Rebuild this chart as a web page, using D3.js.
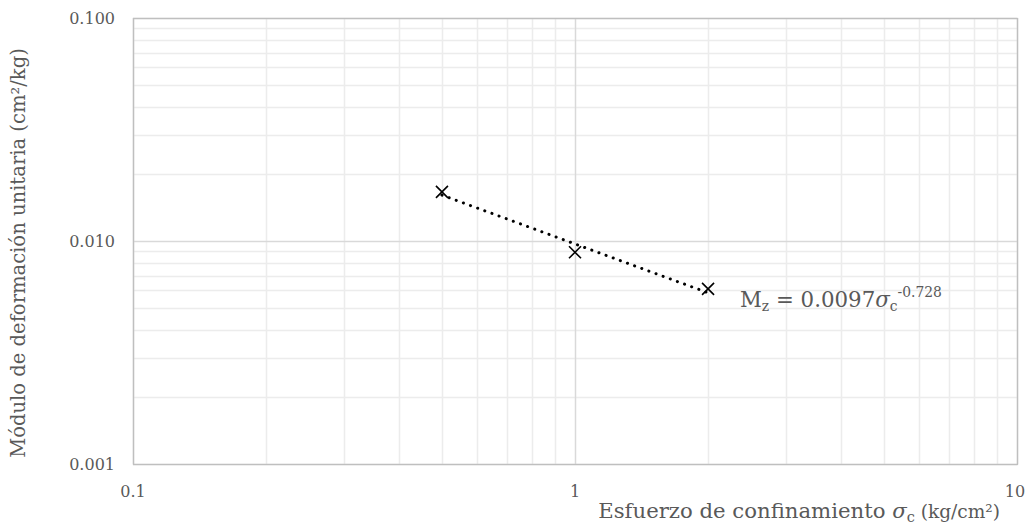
<!DOCTYPE html>
<html><head><meta charset="utf-8">
<script src="https://cdn.jsdelivr.net/npm/d3@7"></script>
<style>body{margin:0;background:#fff}text{font-family:"DejaVu Serif","Liberation Serif",serif;fill:#595959}</style>
</head><body>
<svg id="c" width="1029" height="525"></svg>
<script>
const stress = [0.5, 1, 2];
const modulus = [0.0166, 0.0089, 0.0061];
const fitCoef = 0.0097, fitExp = -0.728;
const xTicks = [0.1, 1, 10];
const xTickLabels = ["0.1", "1", "10"];
const yTicks = [0.001, 0.01, 0.1];
const yTickLabels = ["0.001", "0.010", "0.100"];

const svg = d3.select("#c");
const L = 133, R = 1017, T = 18, B = 464;
const x = d3.scaleLog().domain([0.1, 10]).range([L, R]);
const y = d3.scaleLog().domain([0.001, 0.1]).range([B, T]);

function fitWidth(sel, target) {
  const w = sel.node().getBBox().width;
  const k = target / w;
  sel.attr("font-size", +sel.attr("font-size") * k);
  sel.selectAll("tspan").each(function () {
    const t = d3.select(this);
    if (t.attr("font-size")) t.attr("font-size", +t.attr("font-size") * k);
    if (t.attr("dy")) t.attr("dy", +t.attr("dy") * k);
  });
}

// minor grid
const minorX = [], minorY = [];
[0.1, 1].forEach(d => { for (let k = 2; k <= 9; k++) minorX.push(d * k); });
[0.001, 0.01].forEach(d => { for (let k = 2; k <= 9; k++) minorY.push(d * k); });
const g = svg.append("g");
g.selectAll(".mx").data(minorX).enter().append("line")
  .attr("x1", d => Math.round(x(d)) + 0.5).attr("x2", d => Math.round(x(d)) + 0.5)
  .attr("y1", T).attr("y2", B).attr("stroke", "#ececec").attr("stroke-width", 1.5);
g.selectAll(".my").data(minorY).enter().append("line")
  .attr("y1", d => Math.round(y(d)) + 0.5).attr("y2", d => Math.round(y(d)) + 0.5)
  .attr("x1", L).attr("x2", R).attr("stroke", "#ececec").attr("stroke-width", 1.5);
g.selectAll(".Mx").data(xTicks).enter().append("line")
  .attr("x1", d => Math.round(x(d)) + 0.5).attr("x2", d => Math.round(x(d)) + 0.5)
  .attr("y1", T).attr("y2", B).attr("stroke", "#d9d9d9").attr("stroke-width", 1.5);
g.selectAll(".My").data(yTicks).enter().append("line")
  .attr("y1", d => Math.round(y(d)) + 0.5).attr("y2", d => Math.round(y(d)) + 0.5)
  .attr("x1", L).attr("x2", R).attr("stroke", "#d9d9d9").attr("stroke-width", 1.5);

// border
svg.append("rect").attr("x", L + 0.5).attr("y", T + 0.5).attr("width", R - L).attr("height", B - T)
  .attr("fill", "none").attr("stroke", "#bfbfbf").attr("stroke-width", 1.3);

// tick labels
svg.selectAll(".xt").data(xTicks).enter().append("text")
  .attr("x", (d, i) => i === 2 ? x(d) - 2 : x(d)).attr("y", 497).attr("text-anchor", "middle")
  .attr("font-size", 16).text((d, i) => xTickLabels[i]);
svg.selectAll(".yt").data(yTicks).enter().append("text")
  .attr("x", 115).attr("y", d => y(d) + 6).attr("text-anchor", "end")
  .attr("font-size", 16).text((d, i) => yTickLabels[i]);

// trendline
const fitPts = d3.range(0, 41).map(i => {
  const xv = Math.pow(10, Math.log10(stress[0]) + i / 40 * (Math.log10(stress[2]) - Math.log10(stress[0])));
  return [xv, fitCoef * Math.pow(xv, fitExp)];
});
svg.append("path").datum(fitPts)
  .attr("d", d3.line().x(d => x(d[0])).y(d => y(d[1])))
  .attr("fill", "none").attr("stroke", "#000").attr("stroke-width", 3)
  .attr("stroke-linecap", "round").attr("stroke-dasharray", "0.1 7.5");

// markers
const s = 6;
const mk = svg.selectAll(".m").data(stress).enter().append("g")
  .attr("transform", (d, i) => `translate(${x(d)},${y(modulus[i])})`);
mk.append("path").attr("d", `M${-s},${-s}L${s},${s}M${-s},${s}L${s},${-s}`)
  .attr("stroke", "#000").attr("stroke-width", 1.6);

// equation
const eq = svg.append("text").attr("x", 740).attr("y", 307).attr("font-size", 20);
eq.append("tspan").text("M");
eq.append("tspan").attr("dy", 4).attr("font-size", 13).text("z");
eq.append("tspan").attr("dy", -4).text(" = 0.0097");
eq.append("tspan").attr("font-style", "italic").text("σ");
eq.append("tspan").attr("dy", 4).attr("font-size", 13).text("c");
eq.append("tspan").attr("dy", -13).attr("font-size", 13).text("-0.728");
fitWidth(eq, 202);

// axis titles
const xt = svg.append("text").attr("x", 1000).attr("y", 518).attr("text-anchor", "end").attr("font-size", 16);
xt.append("tspan").text("Esfuerzo de confinamiento ");
xt.append("tspan").attr("font-style", "italic").text("σ");
xt.append("tspan").attr("dy", 3).attr("font-size", 11).text("c");
xt.append("tspan").attr("dy", -3).attr("font-size", 14).text(" (kg/cm²)");
fitWidth(xt, 402);

const yl = svg.append("text").attr("transform", "translate(25,253) rotate(-90)")
  .attr("text-anchor", "middle").attr("font-size", 16)
  .text("Módulo de deformación unitaria (cm²/kg)");
fitWidth(yl, 410);
</script>
</body></html>
